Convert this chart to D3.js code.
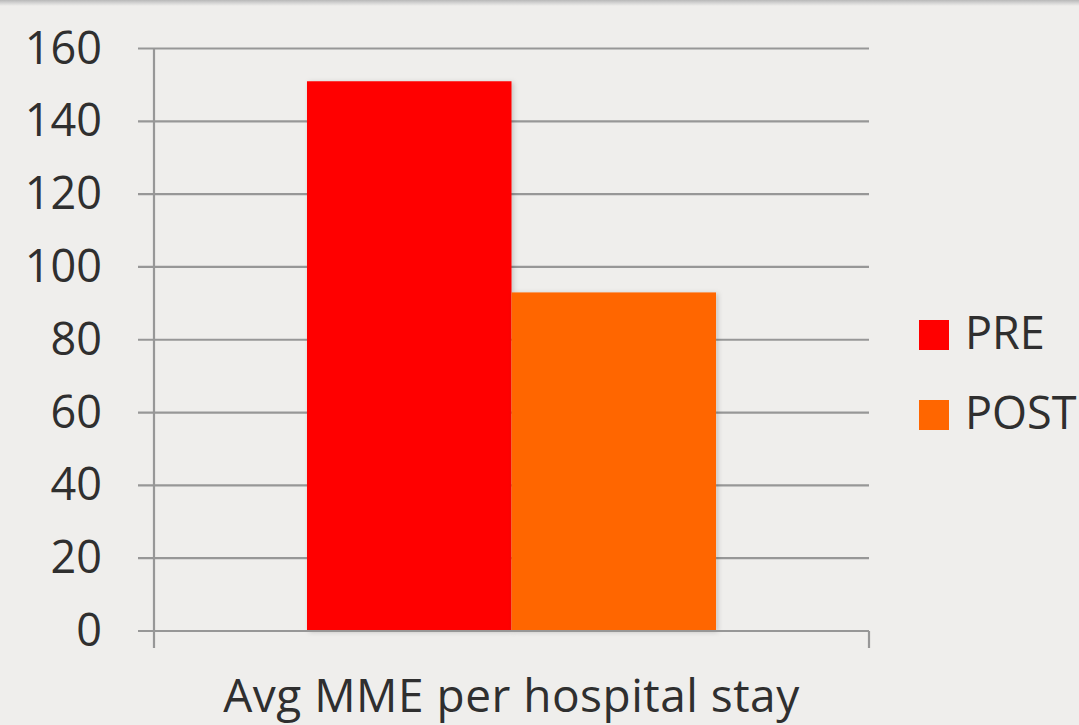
<!DOCTYPE html>
<html>
<head>
<meta charset="utf-8">
<script src="https://cdn.jsdelivr.net/npm/d3@7"></script>
<style>
  html, body { margin: 0; padding: 0; background: #efeeec; }
  svg { display: block; }
  text { font-family: "Open Sans", "Lato", sans-serif; fill: #2f2f2f; }
</style>
</head>
<body>
<svg id="chart" width="1079" height="725"></svg>
<script>
// Chart data
const categories = ["Avg MME per hospital stay"];
const seriesNames = ["PRE", "POST"];
const seriesValues = [151, 93];
const seriesColors = ["#ff0000", "#ff6600"];
const yTicks = [0, 20, 40, 60, 80, 100, 120, 140, 160];

const svg = d3.select("#chart");
const W = 1079, H = 725;

// top edge band with soft shadow
const defs = svg.append("defs");
const grad = defs.append("linearGradient").attr("id", "topShade")
  .attr("x1", 0).attr("x2", 0).attr("y1", 0).attr("y2", 1);
grad.append("stop").attr("offset", "0%").attr("stop-color", "#b8b8b8");
grad.append("stop").attr("offset", "40%").attr("stop-color", "#cfcfcf");
grad.append("stop").attr("offset", "100%").attr("stop-color", "#efeeec");
svg.append("rect").attr("x", 0).attr("y", 0).attr("width", W).attr("height", 6)
  .attr("fill", "url(#topShade)");

const shadow = defs.append("filter").attr("id", "barShadow")
  .attr("x", "-10%").attr("y", "-10%").attr("width", "130%").attr("height", "130%");
shadow.append("feDropShadow").attr("dx", 2).attr("dy", 1).attr("stdDeviation", 2.5)
  .attr("flood-color", "#000").attr("flood-opacity", 0.18);

const plot = { left: 154, right: 869, top: 48.5, bottom: 631 };

const y = d3.scaleLinear().domain([0, 160]).range([plot.bottom, plot.top]);
const x0 = d3.scaleBand().domain(categories).range([plot.left, plot.right])
  .paddingInner(0).paddingOuter(0.374);
const x1 = d3.scaleBand().domain(seriesNames).range([0, x0.bandwidth()]).padding(0);

// gridlines
svg.append("g").selectAll("line").data(yTicks).join("line")
  .attr("x1", plot.left - 16).attr("x2", plot.right)
  .attr("y1", d => y(d)).attr("y2", d => y(d))
  .attr("stroke", "#979797").attr("stroke-width", 2.2);

// y tick labels
svg.append("g").selectAll("text").data(yTicks).join("text")
  .attr("x", 102).attr("y", d => y(d) + 15)
  .attr("text-anchor", "end")
  .attr("font-size", 45)
  .text(d => d);

// bars
const groups = svg.append("g").selectAll("g").data(categories).join("g")
  .attr("transform", d => `translate(${x0(d)},0)`);
groups.selectAll("rect").data(seriesNames.map((s, i) => ({ s, v: seriesValues[i], c: seriesColors[i] })))
  .join("rect")
  .attr("x", d => x1(d.s))
  .attr("y", d => y(d.v))
  .attr("width", x1.bandwidth())
  .attr("height", d => y(0) - y(d.v))
  .attr("fill", d => d.c)
  .attr("filter", "url(#barShadow)");

// axes lines
svg.append("line").attr("x1", plot.left).attr("x2", plot.left)
  .attr("y1", plot.top).attr("y2", plot.bottom + 17)
  .attr("stroke", "#979797").attr("stroke-width", 2.2);
svg.append("line").attr("x1", plot.left - 16).attr("x2", plot.right)
  .attr("y1", plot.bottom).attr("y2", plot.bottom)
  .attr("stroke", "#979797").attr("stroke-width", 2.2);
svg.append("line").attr("x1", plot.right).attr("x2", plot.right)
  .attr("y1", plot.bottom).attr("y2", plot.bottom + 17)
  .attr("stroke", "#979797").attr("stroke-width", 2.2);

// category label
svg.append("g").selectAll("text").data(categories).join("text")
  .attr("x", d => x0(d) + x0.bandwidth() / 2)
  .attr("y", 712)
  .attr("text-anchor", "middle")
  .attr("font-size", 46)
  .attr("letter-spacing", 0.5)
  .text(d => d);

// legend
const legend = svg.append("g").selectAll("g").data(seriesNames).join("g")
  .attr("transform", (d, i) => `translate(919,${320 + i * 80})`);
legend.append("rect").attr("width", 30).attr("height", 30)
  .attr("fill", (d, i) => seriesColors[i]);
legend.append("text").attr("x", 46).attr("y", 29)
  .attr("font-size", 45)
  .text(d => d);
</script>
</body>
</html>
